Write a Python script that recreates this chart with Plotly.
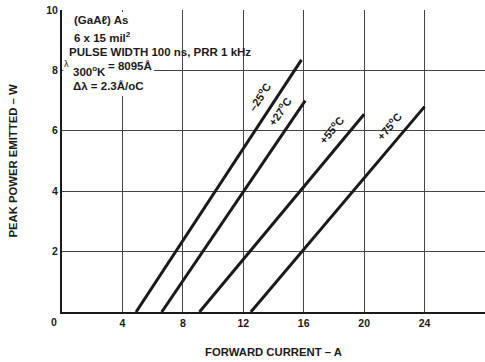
import math
import plotly.graph_objects as go

# Peak power vs forward current, one straight characteristic per case temperature
temp_labels = ["–25", "+27", "+55", "+75"]
threshold_current = [4.9, 6.6, 9.1, 12.5]      # A, where power leaves zero
end_current = [15.85, 16.1, 20.0, 24.0]        # A
end_power = [8.35, 7.0, 6.55, 6.8]             # W

# where each temperature tag sits, as a fraction along its line
tag_fraction = [0.82, 0.91, 0.87, 0.86]

x_ticks = [4, 8, 12, 16, 20, 24]
y_ticks = [2, 4, 6, 8, 10]

W, H = 485, 362
M = dict(l=62, r=0, t=10, b=50)
X_RANGE = [0, 28]
Y_RANGE = [0, 10]
PW, PH = W - M["l"] - M["r"], H - M["t"] - M["b"]
px_x = PW / (X_RANGE[1] - X_RANGE[0])
px_y = PH / (Y_RANGE[1] - Y_RANGE[0])

FONT = "Liberation Sans, Arial, sans-serif"
INK = "#1a1a1a"

fig = go.Figure()
annotations = []

for name, x0, x1, y1, f in zip(temp_labels, threshold_current, end_current,
                               end_power, tag_fraction):
    fig.add_trace(go.Scatter(
        x=[x0, x1], y=[0, y1], mode="lines",
        line=dict(color=INK, width=3), showlegend=False, hoverinfo="skip"))
    # tag lifted off the line perpendicularly, rotated to follow it
    dxp, dyp = (x1 - x0) * px_x, y1 * px_y
    length = math.hypot(dxp, dyp)
    ux, uy = dxp / length, dyp / length
    off = 15
    annotations.append(dict(
        x=x0 + f * (x1 - x0), y=f * y1, xref="x", yref="y",
        text=f"<b>{name}<sup>o</sup>C</b>", showarrow=False,
        textangle=-math.degrees(math.atan2(dyp, dxp)),
        xshift=-uy * off, yshift=ux * off,
        font=dict(family=FONT, size=11, color=INK)))

# white panel behind the conditions block
fig.add_shape(type="rect", xref="x", yref="y", x0=0.08, x1=6.1, y0=7.15, y1=9.93,
              fillcolor="white", line=dict(width=0), layer="between")


def px_note(xp, yp, txt, size=11.5):
    annotations.append(dict(
        x=(xp - M["l"]) / PW, y=1 - (yp - M["t"]) / PH,
        xref="paper", yref="paper", xanchor="left", yanchor="middle",
        text=txt, showarrow=False, font=dict(family=FONT, size=size, color=INK)))


px_note(72, 20, "<b>(GaAℓ) As</b>")
px_note(72, 37, "<b>6 x 15 mil<sup>2</sup></b>")
px_note(67, 52, "<b>PULSE WIDTH 100 ns, PRR 1 kHz</b>")
px_note(62, 64, "λ", size=9)
px_note(71, 71, "<b>300<sup>o</sup>K</b>")
px_note(106, 66, "<b>= 8095Å</b>")
px_note(71, 86, "<b>Δλ = 2.3Å/oC</b>")

# shared origin label at the corner
annotations.append(dict(x=0, y=0, xref="x", yref="y", text="<b>0</b>", showarrow=False,
                        xshift=-8, yshift=-10, font=dict(family=FONT, size=10.5, color=INK)))

axis_common = dict(showgrid=True, gridcolor="#444", gridwidth=1, zeroline=False,
                   showline=True, linecolor=INK, linewidth=2, ticks="",
                   tickfont=dict(family=FONT, size=10.5, color=INK))

fig.update_layout(
    width=W, height=H, margin=M,
    paper_bgcolor="white", plot_bgcolor="white",
    annotations=annotations,
    xaxis=dict(range=X_RANGE, tickvals=x_ticks, ticktext=[f"<b>{v}</b>" for v in x_ticks],
               title=dict(text="<b>FORWARD CURRENT – A</b>", standoff=20,
                          font=dict(family=FONT, size=11.3, color=INK)),
               **axis_common),
    yaxis=dict(range=Y_RANGE, tickvals=y_ticks, ticktext=[f"<b>{v}</b>" for v in y_ticks],
               title=dict(text="<b>PEAK POWER EMITTED – W</b>", standoff=26,
                          font=dict(family=FONT, size=11.3, color=INK)),
               **axis_common),
)

fig.write_html("out.html")
